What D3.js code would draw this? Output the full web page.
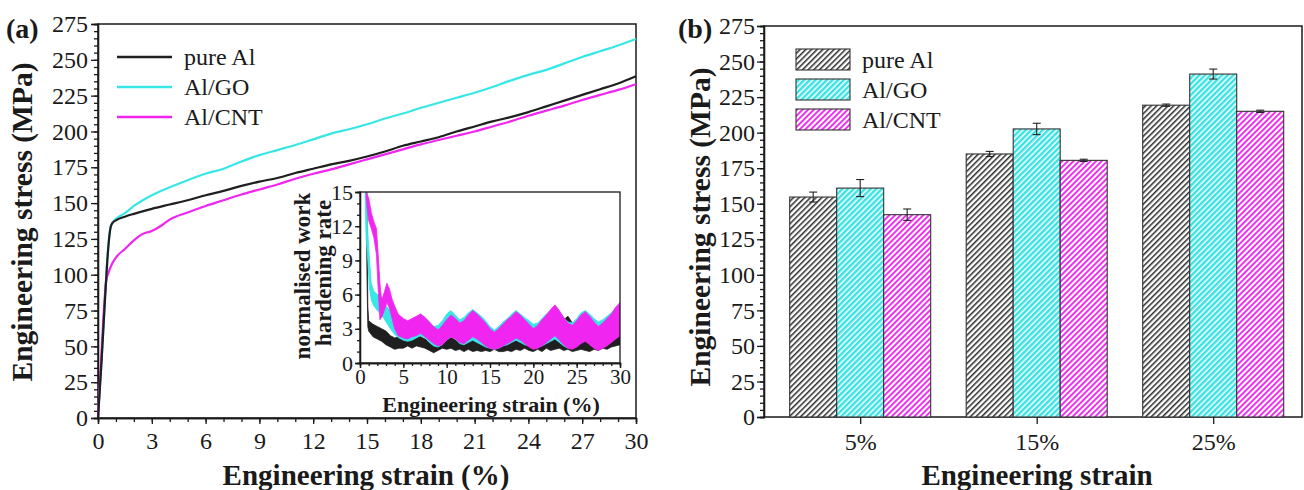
<!DOCTYPE html>
<html lang="en">
<head>
<meta charset="UTF-8" />
<title>engineering stress vs strain</title>
<script src="https://cdn.jsdelivr.net/npm/d3@7"></script>
<style>
    body { margin: 0; background: #fff; }
    svg text { font-family: 'Liberation Serif', 'Times New Roman', serif; fill: #1a1a1a; }
    .axis path, .axis line { stroke: #1a1a1a; stroke-width: 1.3; }
    .bold { font-weight: bold; }
</style>
</head>
<body>
<div id="container"></div>
<script>
// ---- panel (a): stress-strain curves [strain %, stress MPa]
const curvePureAl = [[0,0],[0.2,40],[0.4,85],[0.55,115],[0.7,133],[0.8,136],[1,138],[1.5,140.5],[2,142.5],[3,146],[4,149],[5,152],[6,155.5],[7,158.5],[8,162],[9,165],[10,167.5],[11,171],[12,174],[13,177],[14,179.5],[15,182.5],[16,186],[17,190],[18,193],[19,196],[20,200],[21,203.5],[22,207],[23,210],[24,213.5],[25,217.5],[26,221.5],[27,225.5],[28,229.5],[29,233.5],[30,238.5]]
const curveGO = [[0,0],[0.2,40],[0.4,85],[0.55,117],[0.7,133],[0.85,137],[1,139],[1.5,143],[2,148],[2.5,152],[3,155.5],[4,161],[5,166],[6,170.5],[7,174],[8,179],[9,183.5],[10,187],[11,190.5],[12,194.5],[13,198.5],[14,201.5],[15,205],[16,209],[17,212.5],[18,216.5],[19,220],[20,223.5],[21,227],[22,231],[23,235.5],[24,239.5],[25,243],[26,247.5],[27,252],[28,256],[29,260],[30,264.5]]
const curveCNT = [[0,0],[0.15,35],[0.3,70],[0.45,95],[0.6,102],[0.8,108],[1,112],[1.5,118],[2,124],[2.5,128.5],[3,130.5],[3.5,134],[4,138.5],[5,143.5],[6,148],[7,152],[8,156],[9,159.5],[10,163],[11,167],[12,170.5],[13,173.5],[14,177],[15,180.5],[16,184],[17,187.5],[18,191],[19,194],[20,197],[21,200],[22,203.5],[23,207],[24,211],[25,214.5],[26,218],[27,222],[28,225.5],[29,229],[30,233]]

// ---- inset: normalised work hardening rate bands [strain %, low, high]
const insetPureAl = [[0.75,13,15],[0.8,8,15],[0.9,3.2,5],[1,2.8,3.7],[1.5,2.3,3.4],[2,2.1,3.2],[2.5,1.9,3.0],[3,1.6,2.8],[3.5,1.4,2.4],[4,1.2,2.2],[4.5,1.3,2.3],[5,1.3,2.1],[5.5,1.5,2.4],[6,1.3,2.2],[6.5,1.5,2.5],[7,1.4,2.3],[7.5,1.3,2.1],[8,1.1,2.0],[8.5,0.9,1.8],[9,1.1,2.1],[9.5,1.3,2.2],[10,1.2,2.0],[10.5,1.3,2.3],[11,1.1,2.0],[11.5,1.2,2.2],[12,1.0,2.0],[12.5,1.2,2.3],[13,1.0,2.0],[13.5,1.1,2.2],[14,1.0,1.9],[14.5,1.1,2.1],[15,1.0,2.0],[15.5,1.2,2.3],[16,1.0,2.1],[16.5,1.0,1.9],[17,1.1,2.2],[17.5,1.0,2.0],[18,1.2,2.3],[18.5,1.1,2.1],[19,1.3,2.4],[19.5,1.1,2.2],[20,1.0,2.0],[20.5,1.2,2.3],[21,1.0,2.1],[21.5,1.3,2.5],[22,1.1,2.6],[22.5,1.2,2.8],[23,1.3,3.2],[23.5,1.1,3.8],[24,1.2,4.1],[24.5,1.0,3.5],[25,1.1,3.0],[25.5,1.2,3.4],[26,1.1,3.8],[26.5,1.0,3.9],[27,1.2,3.3],[27.5,1.1,3.0],[28,1.3,3.4],[28.5,1.2,3.2],[29,1.4,3.6],[29.5,1.5,3.3],[30,1.6,3.5]]
const insetGO = [[0.6,14,15],[0.7,11,15],[0.9,9,11.5],[1.1,6.5,9],[1.3,5.5,7],[1.6,5.0,6.3],[2,4.6,6.0],[2.5,4.2,5.8],[3,3.6,5.0],[3.5,3.0,4.6],[4,2.5,4.2],[4.5,2.2,3.6],[5,2.0,3.2],[5.5,1.9,3.4],[6,2.0,3.6],[6.5,2.2,3.9],[7,2.4,4.3],[7.5,2.2,4.0],[8,1.8,3.6],[8.5,1.5,3.2],[9,1.4,3.3],[9.5,1.6,3.7],[10,2.0,4.3],[10.5,2.3,4.6],[11,2.1,4.2],[11.5,1.7,3.8],[12,1.6,4.0],[12.5,1.8,4.4],[13,2.0,4.7],[13.5,1.8,4.4],[14,1.6,4.1],[14.5,1.4,3.7],[15,1.3,3.2],[15.5,1.2,2.9],[16,1.3,3.2],[16.5,1.5,3.6],[17,1.6,3.9],[17.5,1.8,4.3],[18,2.0,4.6],[18.5,1.8,4.3],[19,1.6,4.0],[19.5,1.5,3.7],[20,1.3,3.4],[20.5,1.4,3.5],[21,1.5,3.9],[21.5,1.7,4.3],[22,1.9,4.6],[22.5,2.1,4.9],[23,1.8,4.5],[23.5,1.5,4.0],[24,1.3,3.6],[24.5,1.4,3.5],[25,1.6,3.9],[25.5,1.8,4.4],[26,2.0,4.6],[26.5,1.7,4.3],[27,1.4,3.9],[27.5,1.3,3.6],[28,1.5,3.8],[28.5,1.7,4.1],[29,1.9,4.4],[29.5,2.2,4.8],[30,2.4,5.1]]
const insetCNT = [[0.7,14.5,15],[1,12.5,14.5],[1.3,11.8,13.2],[1.6,11.0,12.4],[1.9,9.5,11.8],[2.1,6.5,9.5],[2.3,3.8,7.0],[2.5,4.0,5.5],[2.8,4.6,6.2],[3.1,5.3,7.0],[3.4,4.8,6.5],[3.7,3.9,5.6],[4,3.0,5.0],[4.4,2.4,4.3],[5,2.2,3.9],[5.5,2.1,3.7],[6,2.3,3.9],[6.5,2.4,4.1],[7,2.6,4.3],[7.5,2.3,4.0],[8,2.0,3.6],[8.5,1.7,3.2],[9,1.5,2.9],[9.5,1.6,3.3],[10,2.0,3.8],[10.5,2.3,4.2],[11,2.1,3.9],[11.5,1.8,3.5],[12,1.7,3.7],[12.5,2.0,4.2],[13,2.3,4.6],[13.5,2.1,4.3],[14,1.8,3.9],[14.5,1.5,3.5],[15,1.3,3.0],[15.5,1.2,2.7],[16,1.3,3.0],[16.5,1.5,3.4],[17,1.7,3.8],[17.5,1.9,4.1],[18,2.2,4.5],[18.5,2.0,4.2],[19,1.7,3.8],[19.5,1.4,3.4],[20,1.2,3.0],[20.5,1.3,3.3],[21,1.5,3.8],[21.5,1.8,4.2],[22,2.1,4.7],[22.5,2.4,5.1],[23,2.0,4.6],[23.5,1.6,4.0],[24,1.3,3.5],[24.5,1.2,3.3],[25,1.4,3.7],[25.5,1.7,4.2],[26,1.9,4.5],[26.5,1.6,4.1],[27,1.3,3.6],[27.5,1.1,3.2],[28,1.3,3.5],[28.5,1.5,3.9],[29,1.8,4.3],[29.5,2.1,4.9],[30,2.4,5.3]]

// ---- panel (b): stress at given strain, mean and error
const strainGroups = ['5%', '15%', '25%']
const barPureAl = [154.7, 185, 219.3]
const errPureAl = [3.5, 1.8, 0.8]
const barGO = [161, 202.6, 241.2]
const errGO = [6, 4, 3.5]
const barCNT = [142.3, 180.5, 215]
const errCNT = [4, 0.8, 0.8]

// ---- ticks and labels
const seriesNames = ['pure Al', 'Al/GO', 'Al/CNT']
const stressTicks = [0, 25, 50, 75, 100, 125, 150, 175, 200, 225, 250, 275]
const stressMinor = d3.range(0, 276, 5)
const strainTicks = [0, 3, 6, 9, 12, 15, 18, 21, 24, 27, 30]
const strainMinor = d3.range(0, 31, 1)
const insetYTicks = [0, 3, 6, 9, 12, 15]
const insetXTicks = [0, 5, 10, 15, 20, 25, 30]

const lineColors = ['#1f1f1f', '#38e6e6', '#f026f0']
const hatchColors = ['#2a2a2a', '#3ae2e2', '#ec32ec']

const svg = d3.select('#container').append('svg').attr('width', 1304).attr('height', 490)
svg.append('rect').attr('width', 1304).attr('height', 490).attr('fill', '#fff')
const defs = svg.append('defs')

const styleTicks = (g, size) => {
    g.selectAll('text').style('font-size', size + 'px')
}

// ================= panel (a) =================
const ax = d3.scaleLinear().domain([0, 30]).range([98, 636])
const ay = d3.scaleLinear().domain([0, 275]).range([418, 24])

svg.append('rect').attr('x', 98).attr('y', 24).attr('width', 538).attr('height', 394)
    .attr('fill', 'none').attr('stroke', '#1a1a1a').attr('stroke-width', 1.5)

svg.append('g').attr('class', 'axis').attr('transform', 'translate(98,0)')
    .call(d3.axisLeft(ay).tickValues(stressMinor).tickSize(4).tickFormat(''))
svg.append('g').attr('class', 'axis').attr('transform', 'translate(98,0)')
    .call(d3.axisLeft(ay).tickValues(stressTicks).tickSize(7).tickPadding(3))
    .call((g) => styleTicks(g, 24))
svg.append('g').attr('class', 'axis').attr('transform', 'translate(0,418)')
    .call(d3.axisBottom(ax).tickValues(strainMinor).tickSize(4).tickFormat(''))
svg.append('g').attr('class', 'axis').attr('transform', 'translate(0,418)')
    .call(d3.axisBottom(ax).tickValues(strainTicks).tickSize(6).tickPadding(8))
    .call((g) => styleTicks(g, 24))

const line = d3.line().x((d) => ax(d[0])).y((d) => ay(d[1])).curve(d3.curveMonotoneX)
const curves = [curvePureAl, curveGO, curveCNT]
;[1, 2, 0].forEach((i) => {
    svg.append('path').attr('d', line(curves[i])).attr('fill', 'none')
        .attr('stroke', lineColors[i]).attr('stroke-width', 2.2)
})

// legend (a)
seriesNames.forEach((name, i) => {
    const y = 57 + i * 30
    svg.append('line').attr('x1', 117).attr('x2', 172).attr('y1', y).attr('y2', y)
        .attr('stroke', lineColors[i]).attr('stroke-width', 2.5)
    svg.append('text').attr('x', 184).attr('y', y + 8).style('font-size', '24px').text(name)
})

svg.append('text').attr('class', 'bold').attr('x', 6).attr('y', 38).style('font-size', '28px').text('(a)')
svg.append('text').attr('class', 'bold').attr('x', 366).attr('y', 485).attr('text-anchor', 'middle')
    .style('font-size', '29px').text('Engineering strain (%)')
svg.append('text').attr('class', 'bold').attr('transform', 'translate(32,222) rotate(-90)')
    .attr('text-anchor', 'middle').style('font-size', '29.5px').text('Engineering stress (MPa)')

// ---- inset
const ix = d3.scaleLinear().domain([0, 30]).range([360, 620])
const iy = d3.scaleLinear().domain([0, 15]).range([363, 192])

defs.append('clipPath').attr('id', 'inset-clip').append('rect')
    .attr('x', 360).attr('y', 192).attr('width', 260).attr('height', 171)

const area = d3.area().x((d) => ix(d[0])).y0((d) => iy(d[1])).y1((d) => iy(d[2]))
const insetSeries = [insetPureAl, insetGO, insetCNT]
const insetG = svg.append('g').attr('clip-path', 'url(#inset-clip)')
insetSeries.forEach((s, i) => {
    insetG.append('path').attr('d', area(s)).attr('fill', lineColors[i])
        .attr('stroke', lineColors[i]).attr('stroke-width', 0.8)
})

svg.append('rect').attr('x', 360).attr('y', 192).attr('width', 260).attr('height', 171)
    .attr('fill', 'none').attr('stroke', '#1a1a1a').attr('stroke-width', 1.3)
svg.append('g').attr('class', 'axis').attr('transform', 'translate(360,0)')
    .call(d3.axisLeft(iy).tickValues(d3.range(0, 16, 1)).tickSize(3).tickFormat(''))
svg.append('g').attr('class', 'axis').attr('transform', 'translate(360,0)')
    .call(d3.axisLeft(iy).tickValues(insetYTicks).tickSize(5).tickPadding(2))
    .call((g) => styleTicks(g, 22))
svg.append('g').attr('class', 'axis').attr('transform', 'translate(0,363)')
    .call(d3.axisBottom(ix).tickValues(d3.range(0, 31, 1)).tickSize(3).tickFormat(''))
svg.append('g').attr('class', 'axis').attr('transform', 'translate(0,363)')
    .call(d3.axisBottom(ix).tickValues(insetXTicks).tickSize(5).tickPadding(1))
    .call((g) => styleTicks(g, 21))

svg.append('text').attr('class', 'bold').attr('x', 491).attr('y', 412).attr('text-anchor', 'middle')
    .style('font-size', '22px').text('Engineering strain (%)')
svg.append('text').attr('class', 'bold').attr('transform', 'translate(310,276) rotate(-90)')
    .attr('text-anchor', 'middle').style('font-size', '23px').text('normalised work')
svg.append('text').attr('class', 'bold').attr('transform', 'translate(331,273) rotate(-90)')
    .attr('text-anchor', 'middle').style('font-size', '23px').text('hardening rate')

// ================= panel (b) =================
const hatch = (id, color, w) => {
    const p = defs.append('pattern').attr('id', id).attr('patternUnits', 'userSpaceOnUse')
        .attr('width', 4).attr('height', 4).attr('patternTransform', 'rotate(45)')
    p.append('rect').attr('width', 4).attr('height', 4).attr('fill', '#fff')
    p.append('rect').attr('width', w).attr('height', 4).attr('fill', color)
}
hatch('hatch0', hatchColors[0], 1.5)
hatch('hatch1', hatchColors[1], 2.5)
hatch('hatch2', hatchColors[2], 2)

const bx = d3.scalePoint().domain(strainGroups).range([764, 1302]).padding(0.524).align(0.52)
const bs = d3.scaleBand().domain(seriesNames).range([-70.5, 70.5])
const by = d3.scaleLinear().domain([0, 275]).range([417, 26])

svg.append('rect').attr('x', 764).attr('y', 26).attr('width', 538).attr('height', 391)
    .attr('fill', 'none').attr('stroke', '#1a1a1a').attr('stroke-width', 1.5)

const barVals = [barPureAl, barGO, barCNT]
const barErrs = [errPureAl, errGO, errCNT]
strainGroups.forEach((g, gi) => {
    seriesNames.forEach((s, si) => {
        const v = barVals[si][gi]
        const e = barErrs[si][gi]
        const x0 = bx(g) + bs(s)
        svg.append('rect').attr('x', x0).attr('y', by(v)).attr('width', bs.bandwidth())
            .attr('height', by(0) - by(v)).attr('fill', `url(#hatch${si})`)
            .attr('stroke', '#333').attr('stroke-width', 1.1)
        const cx = x0 + bs.bandwidth() / 2
        const eb = svg.append('g').attr('stroke', '#222').attr('stroke-width', 1.1)
        eb.append('line').attr('x1', cx).attr('x2', cx).attr('y1', by(v - e)).attr('y2', by(v + e))
        eb.append('line').attr('x1', cx - 4).attr('x2', cx + 4).attr('y1', by(v - e)).attr('y2', by(v - e))
        eb.append('line').attr('x1', cx - 4).attr('x2', cx + 4).attr('y1', by(v + e)).attr('y2', by(v + e))
    })
})

svg.append('g').attr('class', 'axis').attr('transform', 'translate(764,0)')
    .call(d3.axisLeft(by).tickValues(stressMinor).tickSize(4).tickFormat(''))
svg.append('g').attr('class', 'axis').attr('transform', 'translate(764,0)')
    .call(d3.axisLeft(by).tickValues(stressTicks).tickSize(7).tickPadding(2))
    .call((g) => styleTicks(g, 24))
svg.append('g').attr('class', 'axis').attr('transform', 'translate(0,417)')
    .call(d3.axisBottom(bx).tickSize(7).tickPadding(9))
    .call((g) => styleTicks(g, 24))
    .call((g) => g.select('.domain').remove())

// legend (b)
seriesNames.forEach((name, i) => {
    const y = 49 + i * 30
    svg.append('rect').attr('x', 796).attr('y', y).attr('width', 54).attr('height', 21)
        .attr('fill', `url(#hatch${i})`).attr('stroke', '#333').attr('stroke-width', 1.1)
    svg.append('text').attr('x', 862).attr('y', y + 19).style('font-size', '24px').text(name)
})

svg.append('text').attr('class', 'bold').attr('x', 678).attr('y', 38).style('font-size', '28px').text('(b)')
svg.append('text').attr('class', 'bold').attr('x', 1037).attr('y', 485).attr('text-anchor', 'middle')
    .style('font-size', '29px').text('Engineering strain')
svg.append('text').attr('class', 'bold').attr('transform', 'translate(710,227) rotate(-90)')
    .attr('text-anchor', 'middle').style('font-size', '29.5px').text('Engineering stress (MPa)')
</script>
</body>
</html>
